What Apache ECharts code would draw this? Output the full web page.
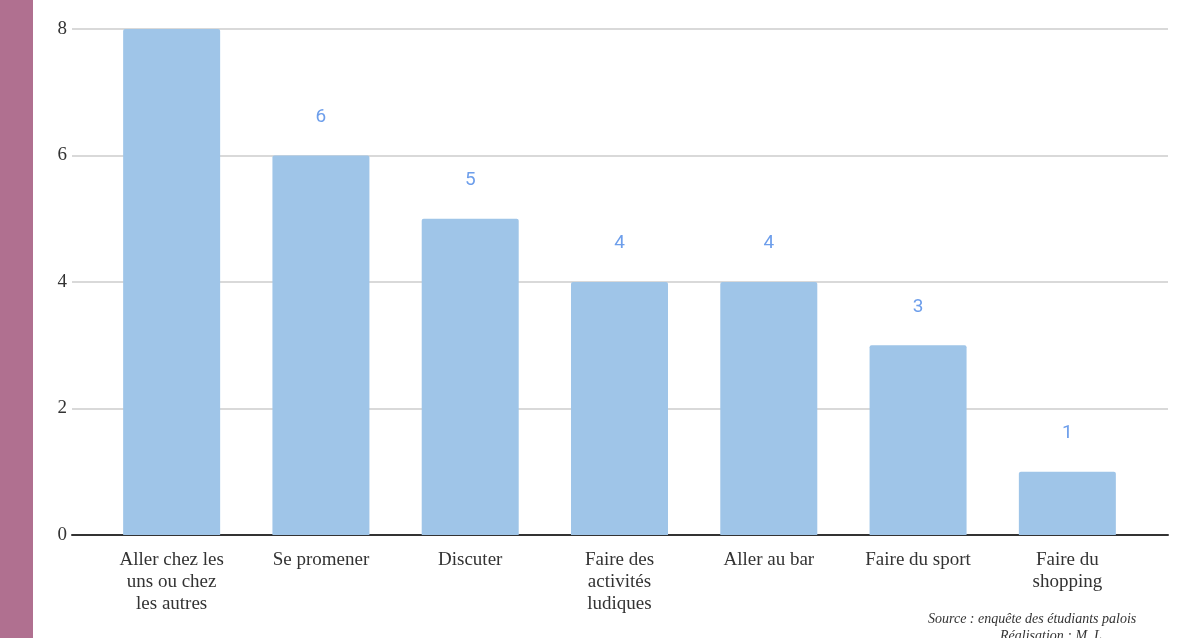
<!DOCTYPE html>
<html>
<head>
<meta charset="utf-8">
<script src="https://cdn.jsdelivr.net/npm/echarts@6/dist/echarts.min.js"></script>
<style>
  html, body { margin: 0; padding: 0; background: #fff; }
  #chart { width: 1180px; height: 638px; }
</style>
</head>
<body>
<div id="chart"></div>
<script>
const categories = [
  "Aller chez les\nuns ou chez\nles autres",
  "Se promener",
  "Discuter",
  "Faire des\nactivités\nludiques",
  "Aller au bar",
  "Faire du sport",
  "Faire du\nshopping"
];
const values = [8, 6, 5, 4, 4, 3, 1];
const yTicks = [0, 2, 4, 6, 8];

const chart = echarts.init(document.getElementById("chart"));

const option = {
  backgroundColor: "#fff",
  animation: false,
  grid: [
    // axis frame: gridlines + baseline
    { left: 72, right: 12, top: 29, bottom: 103 },
    // bars
    { left: 97, right: 38, top: 29, bottom: 103 }
  ],
  xAxis: [
    {
      gridIndex: 0,
      type: "value",
      min: 0,
      max: 1,
      axisLine: { show: true, lineStyle: { color: "#333", width: 2 } },
      axisTick: { show: false },
      axisLabel: { show: false },
      splitLine: { show: false }
    },
    {
      gridIndex: 1,
      type: "category",
      data: categories,
      axisLine: { show: false },
      axisTick: { show: false },
      axisLabel: {
        color: "#333",
        fontFamily: "Liberation Serif",
        fontSize: 19,
        lineHeight: 22,
        margin: 14,
        interval: 0
      }
    }
  ],
  yAxis: [
    {
      gridIndex: 0,
      type: "value",
      min: yTicks[0],
      max: yTicks[yTicks.length - 1],
      interval: 2,
      axisLine: { show: false },
      axisTick: { show: false },
      axisLabel: {
        color: "#333",
        fontFamily: "Liberation Serif",
        fontSize: 19,
        margin: 5
      },
      splitLine: { lineStyle: { color: "#ccc", width: 1.5 } }
    },
    {
      gridIndex: 1,
      type: "value",
      min: yTicks[0],
      max: yTicks[yTicks.length - 1],
      show: false
    }
  ],
  graphic: [
    {
      type: "rect",
      left: 0,
      top: 0,
      shape: { width: 33, height: 638 },
      style: { fill: "#b07090" }
    },
    {
      type: "text",
      left: 928,
      top: 612,
      style: {
        text: "Source : enquête des étudiants palois",
        fill: "#333",
        font: "italic 14px 'Liberation Serif'"
      }
    },
    {
      type: "text",
      left: 1000,
      top: 629,
      style: {
        text: "Réalisation : M. L.",
        fill: "#333",
        font: "italic 14px 'Liberation Serif'"
      }
    }
  ],
  series: [
    {
      type: "bar",
      xAxisIndex: 1,
      yAxisIndex: 1,
      data: values,
      barWidth: 97,
      itemStyle: { color: "#9fc5e8", borderRadius: [2, 2, 0, 0] },
      label: {
        show: true,
        position: "top",
        distance: 29,
        color: "#6d9eeb",
        fontFamily: "Roboto",
        fontSize: 19
      }
    }
  ]
};

chart.setOption(option);
</script>
</body>
</html>
